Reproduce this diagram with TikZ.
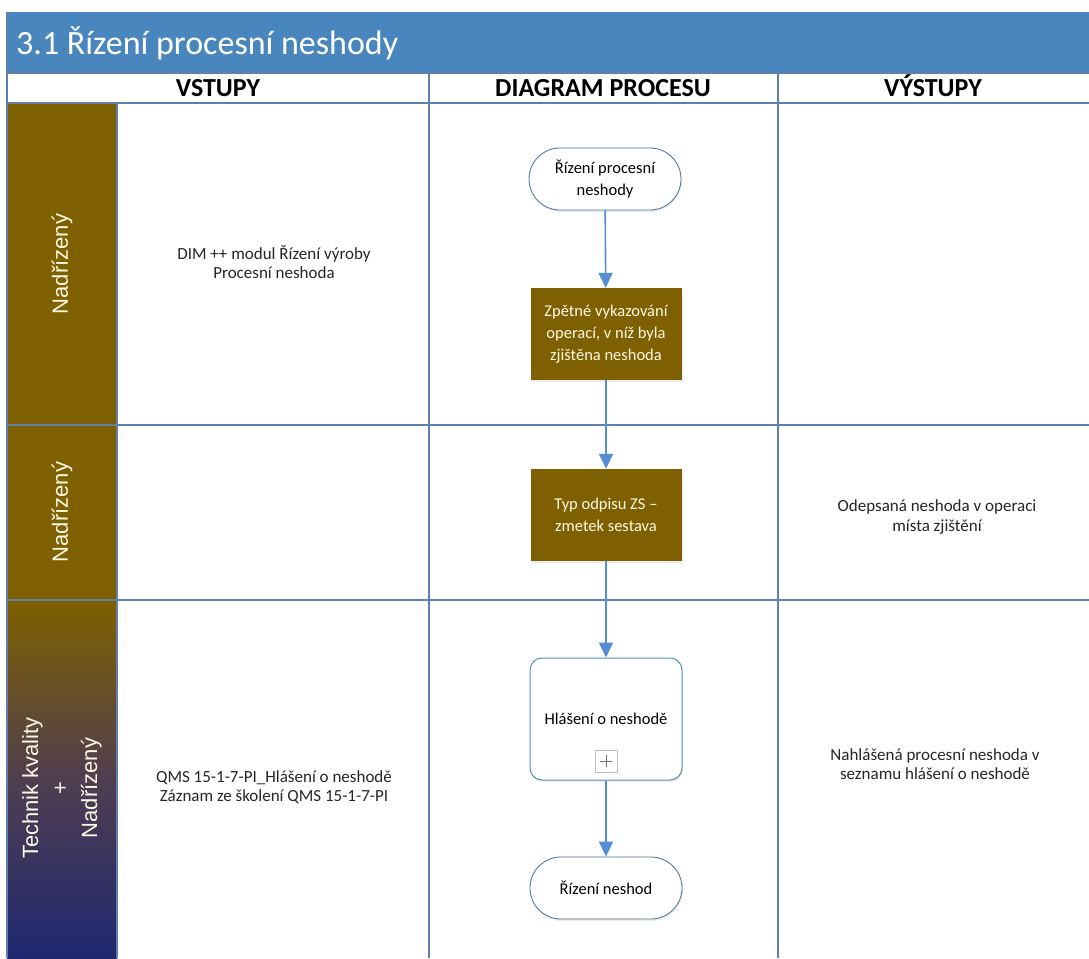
\documentclass[tikz,border=0pt]{standalone}
\usepackage{fontspec}
\setmainfont{Carlito}
\newfontfamily\lanefont{Liberation Sans}
\usetikzlibrary{arrows.meta,shadows}

\definecolor{titleblue}{RGB}{74,134,190}
\definecolor{gridline}{RGB}{96,128,168}
\definecolor{lanebrown}{RGB}{127,96,0}
\definecolor{lanenavy}{RGB}{30,40,112}
\definecolor{lanemid}{RGB}{80,62,80}
\definecolor{flowblue}{RGB}{84,141,212}
\definecolor{termline}{RGB}{65,113,156}
\definecolor{subline}{RGB}{80,150,170}
\definecolor{cream}{RGB}{255,250,230}

\tikzset{
  grid/.style={draw=gridline, line width=1.1pt},
  body/.style={font=\fontsize{16.5}{22}\selectfont},
  hdr/.style={anchor=base, inner sep=0, font=\bfseries\fontsize{26}{28}\selectfont},
  lanelabel/.style={rotate=90, text=cream, align=center,
    font=\lanefont\fontsize{22}{29.5}\selectfont},
  terminal/.style={body, draw=termline, line width=0.8pt, fill=white,
    rounded corners=31pt, minimum width=152pt, minimum height=62pt,
    align=center, drop shadow={opacity=0.15, shadow xshift=1pt, shadow yshift=-2pt}},
  task/.style={body, fill=lanebrown, text=cream, minimum width=151pt,
    minimum height=92pt, align=center,
    drop shadow={opacity=0.15, shadow xshift=1pt, shadow yshift=-2pt}},
  subproc/.style={body, draw=subline, line width=1pt, fill=white,
    rounded corners=12pt, minimum width=152pt, minimum height=122pt,
    align=center, drop shadow={opacity=0.15, shadow xshift=1pt, shadow yshift=-2pt}},
  flow/.style={draw=flowblue, line width=1.6pt,
    -{Triangle[length=15pt,width=14pt]}},
  note/.style={font=\fontsize{17}{19.5}\selectfont, align=center, text=black!85}
}

\begin{document}
\begin{tikzpicture}[x=1pt,y=-1pt]
\useasboundingbox (0,0) rectangle (1089,958);
\fill[white] (0,0) rectangle (1089,958);

% title bar
\fill[titleblue] (7,12) rectangle (1089,73);
\node[anchor=west, text=white, font=\fontsize{34}{38}\selectfont, inner sep=0]
  (title) at (16,43) {3.1 Řízení procesní neshody};

% column headers, sharing one baseline
\node[hdr] (hin)   at (218,96) {VSTUPY};
\node[hdr] (hproc) at (603,96) {DIAGRAM PROCESU};
\node[hdr] (hout)  at (933,96) {VÝSTUPY};

% lane label cells
\fill[lanebrown] (7,103) rectangle (117,425);
\fill[lanebrown] (7,425) rectangle (117,600);
\shade[top color=lanebrown, bottom color=lanenavy, middle color=lanemid]
  (7,600) rectangle (117,958);

% table grid
\draw[grid] (7,73) -- (1089,73);
\draw[grid] (7,103) -- (1089,103);
\draw[grid] (7,425) -- (1089,425);
\draw[grid] (7,600) -- (1089,600);
\draw[grid] (7,12) -- (7,958);
\draw[grid] (117,103) -- (117,958);
\draw[grid] (429,73) -- (429,958);
\draw[grid] (778,73) -- (778,958);

% lane labels
\node[lanelabel] (lane1) at (62,264) {Nadřízený};
\node[lanelabel] (lane2) at (62,512) {Nadřízený};
\node[lanelabel] (lane3) at (62,788) {Technik kvality\\+\\Nadřízený};

% process flow
\node[terminal] (start) at (605,179) {Řízení procesní\\neshody};
\node[task] (t1) at (606,334) {Zpětné vykazování\\operací, v níž byla\\zjištěna neshoda};
\node[task] (t2) at (606,515) {Typ odpisu ZS –\\zmetek sestava};
\node[subproc, text depth=0pt] (sp) at (606,719) {Hlášení o neshodě};
\node[terminal] (end) at (606,888) {Řízení neshod};

% collapsed sub-process marker
\node[draw=black!25, fill=white, minimum size=22pt, inner sep=0] (plus) at (606,761) {};
\draw[black!55, line width=0.8pt] ([xshift=-6pt]plus.center) -- ([xshift=6pt]plus.center);
\draw[black!55, line width=0.8pt] ([yshift=-6pt]plus.center) -- ([yshift=6pt]plus.center);

\draw[flow] (start) -- (t1);
\draw[flow] (t1) -- (t2);
\draw[flow] (t2) -- (sp.north);
\draw[flow] (sp.south) -- (end);

% inputs
\node[note] (in1) at (274,262) {DIM ++ modul Řízení výroby\\Procesní neshoda};
\node[note] (in3) at (274,787) {QMS 15-1-7-PI\_Hlášení o neshodě\\Záznam ze školení QMS 15-1-7-PI};

% outputs
\node[note] (out2) at (937,517) {Odepsaná neshoda v operaci\\místa zjištění};
\node[note] (out3) at (935,764) {Nahlášená procesní neshoda v\\seznamu hlášení o neshodě};
\end{tikzpicture}
\end{document}
